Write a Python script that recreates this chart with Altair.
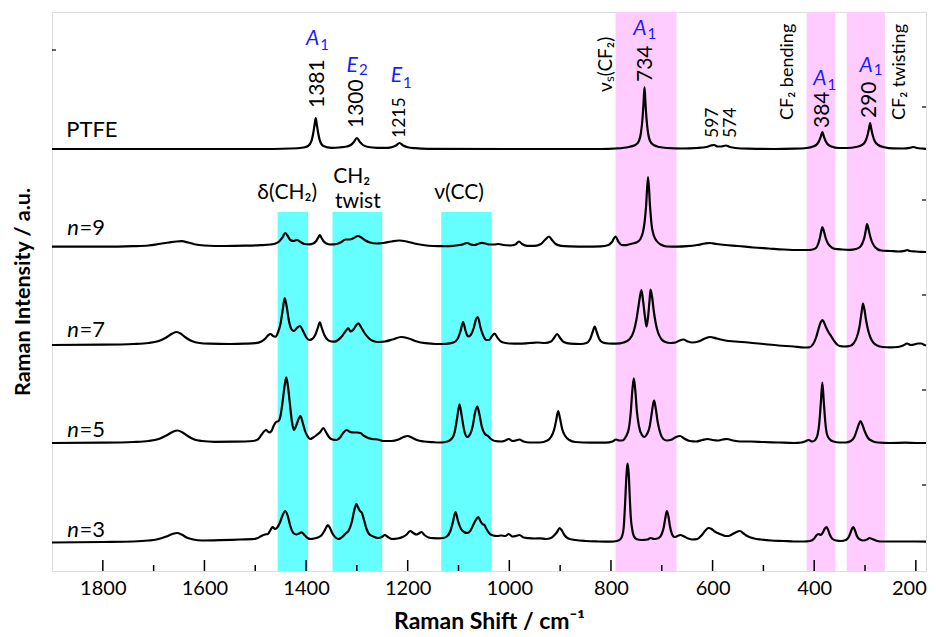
import altair as alt
import pandas as pd

# ---------------- data ----------------
# (Raman shift cm-1, intensity a.u. above each trace's own baseline)
ptfe = [(1900,0),(1700,0),(1500,0),(1430,0.5),(1405,1.5),(1396,3),(1389,8.7),(1386,15.5),(1383,25),(1381,31),(1379,25),(1376,15.5),(1373,8.7),(1366,3),(1350,1.2),(1335,1.5),(1320,2.5),(1312,4),(1306,7),(1300,11),(1294,7),(1288,4),(1278,2),(1260,1.2),(1240,1.2),(1230,2),(1223,3.5),(1216,6),(1209,3.5),(1200,1.8),(1185,0.8),(1160,0.2),(1000,0),(820,0),(790,0.5),(765,2),(752,4),(745,8),(741,16),(738,30),(736,45),(734,62),(732,45),(730,30),(727,16),(723,8),(716,4),(705,2),(690,1),(660,0.5),(630,1),(612,2),(603,3.5),(597,4),(590,2.5),(583,2.5),(574,3.5),(566,2),(555,1),(530,0.3),(480,0),(440,0.3),(415,1),(402,2.5),(394,5),(390,8.5),(387,12.5),(384,17),(381,12.5),(378,8.5),(374,5),(366,2.5),(352,1),(335,1),(318,2),(306,4),(299,8),(295,14),(292,21),(290,26),(288,21),(285,14),(281,8),(274,4),(262,1.8),(245,0.6),(225,0.5),(212,1.2),(205,2),(198,1),(185,0.3),(180,0)]

n9 = [(1900,0.3),(1800,0.3),(1740,0.8),(1710,1.5),(1690,3),(1670,4.5),(1655,5.5),(1645,5.8),(1632,4.5),(1620,2.8),(1600,1.5),(1560,1),(1520,1.3),(1490,1.8),(1470,2.5),(1460,3.5),(1452,6),(1446,10),(1441,14),(1436,11),(1431,7),(1425,6),(1418,7),(1411,5),(1403,3),(1394,2.7),(1386,3.5),(1380,6),(1376,9.5),(1373,12),(1370,9.5),(1366,6),(1360,3.5),(1352,2.5),(1340,3),(1332,4.5),(1322,7.5),(1314,7.5),(1306,9),(1298,11),(1291,9.5),(1283,6.5),(1274,4.5),(1262,3.5),(1248,4),(1232,5.5),(1217,6.5),(1202,5.5),(1187,3.5),(1170,2),(1150,1),(1130,0.8),(1110,1.2),(1095,2.2),(1087,3.5),(1083,4),(1076,2.5),(1069,2),(1062,3),(1055,4.2),(1047,3.5),(1038,2.5),(1030,2.5),(1021,3),(1012,2),(998,1.5),(988,2.5),(981,5.5),(975,3),(965,1.2),(950,1.2),(938,3),(930,7),(922,10.5),(916,7),(909,3),(898,1.2),(880,0.6),(850,0.3),(820,0.6),(805,2),(798,5),(791,10.5),(785,5),(779,2),(772,1.8),(765,2.5),(758,3.5),(750,4.5),(742,8),(737,15),(734,24),(731,40),(727,70),(723,40),(720,22),(716,12),(710,6),(702,2.5),(690,0.5),(670,0.3),(650,0.8),(630,2),(615,3.5),(605,4),(592,3),(575,2),(550,1),(520,-0.5),(490,-1.5),(460,-2.5),(430,-3),(410,-3),(400,-2),(395,0),(391,5),(388,11),(386,16),(384,20),(381,16),(378,10),(374,4.5),(368,0.5),(360,-1.8),(345,-2.5),(330,-2.8),(318,-2),(310,0),(305,4),(301,10),(298,18),(296,23),(294,20),(291,13),(287,6),(282,1),(276,-2),(268,-3.5),(250,-4),(235,-4.5),(222,-3.8),(217,-3),(212,-4),(200,-4.5),(190,-4.8),(180,-5)]

n7 = [(1900,0),(1800,0.3),(1740,1),(1710,2),(1690,4),(1675,7.5),(1663,11.5),(1655,13),(1647,11.5),(1637,7.5),(1625,4),(1610,2),(1590,1.3),(1550,1),(1520,1.3),(1500,1.8),(1488,3.5),(1480,6.5),(1474,10),(1470,11),(1465,9),(1460,8.3),(1455,13),(1450,22),(1446,35),(1442,47),(1438,38),(1434,25),(1429,16),(1424,14),(1418,17),(1412,19),(1406,14),(1400,8),(1394,5),(1388,6),(1382,10),(1377,17),(1373,22.7),(1369,17),(1364,10),(1357,5),(1350,3.5),(1344,3.3),(1337,5),(1329,9),(1322,14),(1317,16.7),(1312,13.5),(1306,16),(1301,20),(1297,21.7),(1292,18),(1285,12),(1277,7),(1268,4),(1258,3),(1245,3.5),(1230,5.5),(1213,8),(1198,6.5),(1182,3.5),(1165,1.8),(1145,1),(1125,1.2),(1110,2.5),(1102,6),(1096,14),(1091,23),(1086,14),(1081,8.5),(1076,10),(1070,17),(1066,25),(1062,28),(1057,18),(1051,9),(1045,5),(1040,5),(1034,9),(1029,11.5),(1023,7),(1015,3),(1000,1.5),(980,1.3),(960,2),(945,2.5),(930,2),(918,3.5),(912,7),(906,11),(900,7),(893,3),(880,1.3),(860,1),(848,2),(841,6),(836,13),(832,18.5),(828,13),(823,6),(816,2.5),(805,1.5),(790,1.3),(775,2.5),(763,6),(755,14),(750,25),(746,38),(742,51),(740,55),(737,45),(733,28),(730,18.5),(727,28),(724,45),(722,55.5),(719,48),(716,35),(712,22),(707,12),(701,6),(693,3),(683,2),(673,2.5),(665,4.5),(657,5.5),(649,3.5),(640,2.5),(628,3.5),(615,6.5),(605,8),(592,6.5),(575,4.5),(555,3.5),(530,2.5),(500,1),(470,-0.5),(440,-1.5),(420,-2.5),(410,-2.3),(402,1),(396,8),(391,17),(387,23),(384,25),(381,23),(377,18),(372,13),(367,9),(362,5),(356,1),(350,-1),(340,-1.5),(330,-1),(322,2),(316,8),(311,18),(307,32),(304,41.5),(301,35),(298,25),(294,15),(289,7),(283,2),(276,-0.5),(265,-2),(250,-2.3),(235,-2),(225,-0.5),(217,1.5),(210,0),(203,0.5),(196,1.5),(189,1.5),(183,0),(180,-0.5)]

n5 = [(1900,0),(1800,0.3),(1740,1),(1710,2),(1690,4),(1675,7.5),(1663,11),(1653,12.5),(1643,10.5),(1633,7),(1620,3.5),(1605,2),(1580,1.2),(1545,1.3),(1520,1.5),(1505,2),(1495,3.5),(1488,8),(1482,12),(1478,13),(1473,10.5),(1468,12),(1463,18),(1459,21),(1454,22),(1450,28),(1446,42),(1442,58),(1439,65.7),(1436,58),(1432,40),(1428,22),(1424,13),(1419,18),(1414,25),(1411,27),(1407,21),(1402,12),(1396,6),(1392,4),(1386,5.5),(1379,8),(1372,11),(1366,15),(1361,11),(1355,6),(1348,3.5),(1340,3),(1333,5.5),(1327,10),(1320,13),(1313,11),(1306,10.5),(1299,10.5),(1293,10),(1287,7.5),(1280,5.5),(1270,4),(1259,3.5),(1247,2),(1232,2),(1218,3.5),(1208,6),(1200,7),(1192,5.5),(1182,3),(1168,1.5),(1150,0.8),(1135,0.5),(1122,1.5),(1114,4),(1108,10),(1103,24),(1098,38.7),(1094,28),(1089,13),(1083,6),(1077,9),(1072,17),(1068,29),(1063,36.3),(1059,29),(1054,16),(1048,9),(1042,7),(1036,4),(1028,2),(1016,1.5),(1008,2.5),(1001,4),(994,2),(987,2.5),(980,3.5),(972,1.5),(960,0.5),(940,0.5),(925,2.5),(918,6),(912,13),(908,22),(904,32),(900,24),(896,14),(890,7),(882,3),(870,1),(840,0.3),(810,0.3),(797,1.5),(790,3.5),(784,2.5),(778,2.5),(771,6),(765,14),(761,31),(758,52),(755,64.7),(752,52),(749,32),(745,17),(739,8),(734,6),(729,9),(724,16),(720,29),(717,39),(715,42.3),(712,35),(708,21),(703,10),(697,4),(690,2.5),(680,3.5),(672,6),(664,7),(656,4.5),(645,2),(632,1.5),(620,3),(610,4),(600,3),(590,2.5),(580,3.5),(572,4),(560,2.5),(545,1.5),(525,1.5),(500,1),(470,0.5),(440,0),(425,0.5),(418,1.5),(411,3),(404,1.5),(398,3),(393,9),(390,20),(387,40),(384,60.5),(381,40),(378,20),(375,9),(370,4),(362,1.5),(350,0.5),(338,0.5),(328,2),(321,6),(316,13),(312,19),(309,22),(305,18),(300,11),(294,5),(286,2),(275,0.5),(250,0),(220,0.3),(200,0),(180,0)]

n3 = [(1900,-0.5),(1800,0),(1740,0.5),(1710,1.5),(1690,3),(1675,5.5),(1663,8),(1654,9),(1645,7.5),(1635,4.5),(1622,2.5),(1605,1.5),(1570,1.8),(1530,2.5),(1505,2.8),(1495,4),(1488,6),(1481,7.5),(1475,8),(1470,12),(1466,15),(1461,13),(1456,15),(1451,20),(1446,27),(1441,31),(1436,26),(1431,16),(1425,9),(1419,7.5),(1414,8.5),(1409,9.7),(1403,7),(1397,4),(1391,3),(1384,3.5),(1377,4.5),(1370,6.5),(1364,11),(1360,15),(1357,17),(1353,14),(1348,8.5),(1342,4.5),(1336,3),(1329,5),(1322,8.5),(1316,11.5),(1310,20),(1305,32),(1301,38),(1298,35),(1294,31),(1290,29),(1286,22),(1281,13),(1276,8),(1268,5.5),(1258,4),(1251,5),(1245,7),(1239,5),(1231,3),(1220,3.5),(1210,5),(1202,7.5),(1195,11),(1189,9),(1183,7.5),(1178,8.5),(1173,10),(1167,7),(1159,4.5),(1150,3.8),(1140,3.7),(1130,4),(1122,6),(1116,11),(1111,20),(1106,30),(1101,21),(1095,13),(1089,10),(1083,9),(1077,11),(1071,17),(1066,22),(1061,25),(1057,21),(1053,18),(1049,17),(1045,13),(1039,8.5),(1032,6.5),(1024,6),(1016,6.5),(1008,6),(1001,8),(994,5.5),(987,6),(980,7),(972,4.5),(962,3.8),(950,3.5),(939,3.7),(928,3),(918,4),(911,7),(906,10),(901,14),(896,11),(891,6.5),(884,3.5),(870,2),(850,1),(825,0.5),(800,0.3),(788,1),(782,2.5),(778,6),(775,14),(772,40),(770,62),(768,76),(767,78.5),(765,68),(763,45),(761,25),(758,12),(755,6),(750,3),(740,2),(728,2.5),(722,4),(715,3),(706,4),(700,8),(696,15),(693,24),(690,31),(687,26),(684,16),(680,8),(675,5),(669,6),(663,7),(656,5.5),(648,3.5),(640,2.5),(630,3),(622,6.5),(615,11),(608,14),(602,13),(596,10.5),(590,9),(583,7.5),(575,6),(569,6),(562,7.5),(555,9.5),(546,11),(539,8.5),(530,5.5),(518,3.5),(505,2.5),(485,1.5),(460,1),(440,0.5),(420,0.5),(408,1),(400,3.5),(395,7),(391,8),(387,7),(383,9.5),(379,13.5),(376,15),(373,12.5),(369,7),(364,3),(357,1.5),(347,1),(338,2),(332,5),(328,10),(325,14),(323,15),(320,12),(316,6),(310,2.5),(303,1.5),(296,2.5),(291,4),(286,3),(279,1.5),(270,0.5),(250,0.5),(220,0.5),(200,0.5),(180,0.3)]

spectra_names = ["PTFE", "n=9", "n=7", "n=5", "n=3"]
spectra_values = [ptfe, n9, n7, n5, n3]
stack_offsets = [422, 324, 226, 128, 29]

cyan_bands = [(1456, 1396), (1348, 1250), (1134, 1035)]
magenta_bands = [(791, 671), (415, 358), (336, 261)]

major_ticks = [1800, 1600, 1400, 1200, 1000, 800, 600, 400, 200]
minor_ticks = [1700, 1500, 1300, 1100, 900, 700, 500, 300]
right_ticks = [464, 371, 276, 181, 86]
left_ticks = [521]

# ---------------- tables ----------------
rows = []
for name, vals, off in zip(spectra_names, spectra_values, stack_offsets):
    for x, v in vals:
        rows.append({"name": name, "x": x, "y": off + v})
spec_df = pd.DataFrame(rows)

FONT = "Lato"
W, H = 874, 559
xs = alt.Scale(domain=[180, 1900], reverse=True, nice=False, zero=False)
ys = alt.Scale(domain=[0, H], nice=False, zero=False)

XAX = alt.Axis(values=major_ticks, format="d", title="Raman Shift / cm⁻¹",
               titleFont=FONT, titleFontSize=23, titleFontWeight="bold", titleColor="black",
               labelFont=FONT, labelFontSize=20, labelColor="black", labelPadding=7,
               labelOffset={"condition": {"test": "datum.value <= 200", "value": -7}, "value": 0},
               titlePadding=12, ticks=False, domain=False, grid=False, labelOverlap=False)
YAX = alt.Axis(title="Raman Intensity / a.u.", labels=False, ticks=False, domain=False,
               grid=False, titleFont=FONT, titleFontSize=21.5, titleFontWeight="bold",
               titleColor="black", titlePadding=18)

def X(f="x"):
    return alt.X(f"{f}:Q", scale=xs, axis=XAX)

def Y(f="y"):
    return alt.Y(f"{f}:Q", scale=ys, axis=YAX)

mag = alt.Chart(pd.DataFrame({"a": [b[0] for b in magenta_bands], "b": [b[1] for b in magenta_bands]})).mark_rect(
    color="#FFCCFF").encode(x=X("a"), x2="b:Q", y=alt.value(0), y2=alt.value(H))
cya = alt.Chart(pd.DataFrame({"a": [b[0] for b in cyan_bands], "b": [b[1] for b in cyan_bands],
                              "t": [359] * 3, "z": [0] * 3})).mark_rect(
    color="#66FFFF").encode(x=X("a"), x2="b:Q", y=Y("t"), y2="z:Q")

lines = alt.Chart(spec_df).mark_line(color="black", strokeWidth=2.2, interpolate="monotone").encode(
    x=X(), y=Y(), detail="name:N")

maj = alt.Chart(pd.DataFrame({"x": major_ticks})).mark_rule(color="black", strokeWidth=1.5).encode(
    x=X(), y=alt.value(H), y2=alt.value(H - 11))
mnr = alt.Chart(pd.DataFrame({"x": minor_ticks})).mark_rule(color="black", strokeWidth=1.5).encode(
    x=X(), y=alt.value(H), y2=alt.value(H - 6))
rt = alt.Chart(pd.DataFrame({"y": right_ticks})).mark_rule(color="black", strokeWidth=1.2).encode(
    y=Y(), x=alt.value(W - 4), x2=alt.value(W))
lt = alt.Chart(pd.DataFrame({"y": left_ticks})).mark_rule(color="black", strokeWidth=1.2).encode(
    y=Y(), x=alt.value(0), x2=alt.value(4))

def texts(items, **kw):
    df = pd.DataFrame(items, columns=["label", "x", "y"])
    return alt.Chart(df).mark_text(font=FONT, color="black", **kw).encode(x=X(), y=Y(), text="label:N")

rot_big = texts([("1381", 1377, 463), ("1300", 1299, 443), ("734", 732, 489), ("384", 383, 443), ("290", 291, 453)],
                angle=270, align="left", baseline="middle", fontSize=21)
rot_small = texts([("1215", 1215, 433), ("597", 600, 433), ("574", 563, 433)],
                  angle=270, align="left", baseline="middle", fontSize=17.5)
rot_vs = texts([("νₛ(CF₂)", 810, 479)], angle=270, align="left", baseline="middle", fontSize=19)
rot_cf = texts([("CF₂ bending", 452, 451), ("CF₂ twisting", 231, 451)],
               angle=270, align="left", baseline="middle", fontSize=18)

names_reg = texts([("PTFE", 1872, 434), ("=9", 1846, 336), ("=7", 1846, 234), ("=5", 1846, 134), ("=3", 1846, 34)],
                  align="left", baseline="alphabetic", fontSize=22)
names_it = texts([("n", 1870, 336), ("n", 1870, 234), ("n", 1870, 134), ("n", 1870, 34)],
                 align="left", baseline="alphabetic", fontSize=22, fontStyle="italic")
band_lbl = texts([("δ(CH₂)", 1437, 372), ("CH₂", 1310, 388), ("twist", 1298, 363), ("ν(CC)", 1099, 372)],
                 align="center", baseline="alphabetic", fontSize=21)

BLUE = "#1a1aff"
sym = pd.DataFrame([("A", 1374, 526), ("E", 1298, 499), ("E", 1211, 489), ("A", 730, 536), ("A", 376, 486),
                    ("A", 285, 499)], columns=["label", "x", "y"])
sub = pd.DataFrame([("1", 1374, 521), ("2", 1298, 496), ("1", 1211, 483), ("1", 730, 532), ("1", 376, 481),
                    ("1", 285, 496)], columns=["label", "x", "y"])
sym_t = alt.Chart(sym).mark_text(font=FONT, color=BLUE, fontSize=21, fontStyle="italic", align="right",
                                 baseline="alphabetic").encode(x=X(), y=Y(), text="label:N")
sub_t = alt.Chart(sub).mark_text(font=FONT, color=BLUE, fontSize=15, align="left", dx=1,
                                 baseline="alphabetic").encode(x=X(), y=Y(), text="label:N")

chart = alt.layer(mag, cya, lines, maj, mnr, rt, lt, rot_big, rot_small, rot_vs, rot_cf,
                  names_reg, names_it, band_lbl, sym_t, sub_t).properties(
    width=W, height=H, autosize=alt.AutoSizeParams(type="none"),
    padding={"left": 44, "top": 4, "right": 2, "bottom": 64}
).configure_view(stroke="black", strokeWidth=1.6).configure(background="white")

chart.save("out.html", embed_options={"renderer": "svg", "actions": False})
